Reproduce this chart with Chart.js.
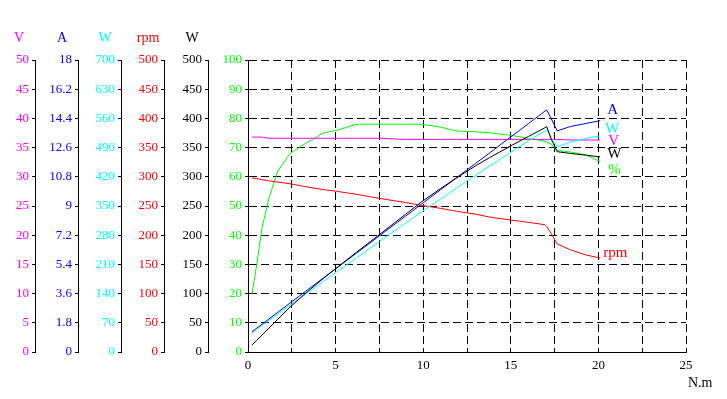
<!DOCTYPE html>
<html><head><meta charset="utf-8">
<script src="https://cdn.jsdelivr.net/npm/chart.js@4/dist/chart.umd.min.js"></script>
<style>html,body{margin:0;padding:0;background:#fff;overflow:hidden}</style>
</head><body>
<canvas id="c" width="727" height="399"></canvas>
<script>
// ---- data (torque in N.m) ----
const torque   = [0.23, 0.5, 0.8, 1.2, 1.7, 2.4, 3.3, 4.3, 5.1, 6.2, 7.5, 9, 9.9, 11, 11.9, 13, 13.8, 15, 16, 16.95, 17.05, 17.3, 17.65, 18.4, 19.3, 20.1];
const effPct   = [20, 30, 42.5, 52.8, 62, 68, 71.5, 75, 76, 78, 78, 78, 78, 77, 75.7, 75.4, 75.1, 74.2, 73.2, 72.2, 71.9, 71.2, 69, 68.5, 67.5, 65.2];
const volts    = [36.8, 36.8, 36.8, 36.6, 36.6, 36.6, 36.6, 36.6, 36.6, 36.6, 36.6, 36.4, 36.4, 36.4, 36.4, 36.4, 36.4, 36.4, 36.4, 36.4, 36.4, 36.4, 36.4, 36.3, 36.3, 36.3];
const amps     = [1.25, 1.47, 1.71, 2.04, 2.45, 3.02, 3.75, 4.56, 5.21, 6.10, 7.16, 8.38, 9.11, 10.01, 10.74, 11.63, 12.28, 13.26, 14.07, 14.85, 14.92, 14.4, 13.63, 13.9, 14.09, 14.26];
const inputW   = [46, 55, 64, 76, 91, 112, 139, 169, 193, 226, 265, 309, 336, 367, 393, 424, 446, 479, 506, 530, 534, 515, 492, 503, 512, 518];
const speedRpm = [298, 297, 295, 293, 291, 288, 283, 278, 275, 270, 263, 256, 251, 246, 241, 236, 231, 226, 222, 218, 215, 203, 185, 175, 166, 161];
const outputW  = [12, 20, 29, 41, 56, 77, 101, 126, 145, 171, 201, 236, 257, 280, 298, 319, 333, 353, 369, 384, 386, 365, 343, 340, 337, 334];

// ---- tick values ----
const xTicks     = [0, 2.5, 5, 7.5, 10, 12.5, 15, 17.5, 20, 22.5, 25];
const pctTicks   = [0, 10, 20, 30, 40, 50, 60, 70, 80, 90, 100];
const voltTicks  = [0, 5, 10, 15, 20, 25, 30, 35, 40, 45, 50];
const ampTicks   = [0, 1.8, 3.6, 5.4, 7.2, 9, 10.8, 12.6, 14.4, 16.2, 18];
const inWTicks   = [0, 70, 140, 210, 280, 350, 420, 490, 560, 630, 700];
const rpmTicks   = [0, 50, 100, 150, 200, 250, 300, 350, 400, 450, 500];
const outWTicks  = [0, 50, 100, 150, 200, 250, 300, 350, 400, 450, 500];

const FONT = '"Liberation Serif", "Times New Roman", serif';
const pts = arr => torque.map((t, i) => ({x: t, y: arr[i]}));
const setTicks = arr => s => { s.ticks = arr.map(v => ({value: v})); };
const fmt = v => String(Number(v.toFixed(1)));

function sideAxis(ticks, max, color, weight, width) {
  return {
    type: 'linear', position: 'left', min: 0, max: max, weight: weight,
    afterBuildTicks: setTicks(ticks),
    afterFit: s => { s.width = width; },
    ticks: {color: color, font: {family: FONT, size: 13}, padding: 3, autoSkip: false, callback: fmt},
    grid: {drawOnChartArea: false, drawTicks: true, tickLength: 3, color: '#000', tickColor: '#000'},
    border: {display: true, color: '#000', width: 1}
  };
}

const labelPlugin = {
  id: 'labels',
  afterDraw(chart) {
    const ctx = chart.ctx, ca = chart.chartArea;
    ctx.save();
    const titles = [['yV', 'V', '#ff00ff'], ['yA', 'A', '#0000ff'], ['yW', 'W', '#00ffff'], ['yR', 'rpm', '#ff0000'], ['yP', 'W', '#000000']];
    ctx.font = '14px ' + FONT;
    ctx.textAlign = 'center';
    ctx.textBaseline = 'middle';
    titles.forEach(([id, txt, col]) => {
      const s = chart.scales[id];
      ctx.fillStyle = col;
      ctx.fillText(txt, s.right - 16, ca.top - 22);
    });
    ctx.fillStyle = '#000';
    ctx.textAlign = 'left';
    ctx.textBaseline = 'alphabetic';
    ctx.font = '14px ' + FONT;
    ctx.fillText('N.m', ca.right + 2, ca.bottom + 35);
    ctx.font = '15px ' + FONT;
    ctx.textBaseline = 'middle';
    chart.data.datasets.forEach((ds, i) => {
      const meta = chart.getDatasetMeta(i);
      const p = meta.data[meta.data.length - 1];
      ctx.fillStyle = ds.borderColor;
      ctx.fillText(ds.endLabel, p.x + ds.endDx, p.y + ds.endDy);
    });
    ctx.restore();
  }
};

new Chart(document.getElementById('c'), {
  type: 'line',
  data: {
    datasets: [
      {data: pts(outputW),  yAxisID: 'yP', borderColor: '#000000', endLabel: 'W',   endDx: 7, endDy: -3},
      {data: pts(amps),     yAxisID: 'yA', borderColor: '#0000ff', endLabel: 'A',   endDx: 7, endDy: -11},
      {data: pts(inputW),   yAxisID: 'yW', borderColor: '#00ffff', endLabel: 'W',   endDx: 5, endDy: -7},
      {data: pts(volts),    yAxisID: 'yV', borderColor: '#ff00ff', endLabel: 'V',   endDx: 8, endDy: 1},
      {data: pts(speedRpm), yAxisID: 'yR', borderColor: '#ff0000', endLabel: 'rpm', endDx: 3, endDy: -5},
      {data: pts(effPct),   yAxisID: 'y',  borderColor: '#00ff00', endLabel: '%',   endDx: 8, endDy: 8}
    ].map(d => Object.assign({borderWidth: 1, pointRadius: 0, fill: false, tension: 0}, d))
  },
  options: {
    responsive: false, animation: false, devicePixelRatio: 1,
    layout: {padding: {top: 60, left: 0, right: 41, bottom: 0}},
    plugins: {legend: {display: false}, tooltip: {enabled: false}},
    scales: {
      x: {
        type: 'linear', min: 0, max: 25,
        afterBuildTicks: setTicks(xTicks),
        afterFit: s => { s.height = 47; },
        ticks: {color: '#000', font: {family: FONT, size: 13}, padding: 6, maxRotation: 0, autoSkip: false,
                callback: v => (v % 5 === 0 ? String(v) : '')},
        grid: {color: '#000', lineWidth: 1, drawTicks: false},
        border: {display: true, color: '#000', width: 1, dash: [8, 4]}
      },
      y: {
        type: 'linear', position: 'left', min: 0, max: 100, weight: 0,
        afterBuildTicks: setTicks(pctTicks),
        afterFit: s => { s.width = 40; },
        ticks: {color: '#00ff00', font: {family: FONT, size: 13}, padding: 3, autoSkip: false, callback: fmt},
        grid: {color: '#000', lineWidth: 1, drawTicks: true, tickLength: 3, tickColor: '#000'},
        border: {display: true, color: '#000', width: 1, dash: [8, 4]}
      },
      yP: sideAxis(outWTicks, 500, '#000000', 1, 44),
      yR: sideAxis(rpmTicks, 500, '#ff0000', 2, 43),
      yW: sideAxis(inWTicks, 700, '#00ffff', 3, 43),
      yA: sideAxis(ampTicks, 18, '#0000ff', 4, 43),
      yV: sideAxis(voltTicks, 50, '#ff00ff', 5, 35)
    }
  },
  plugins: [labelPlugin]
});
</script>
</body></html>
